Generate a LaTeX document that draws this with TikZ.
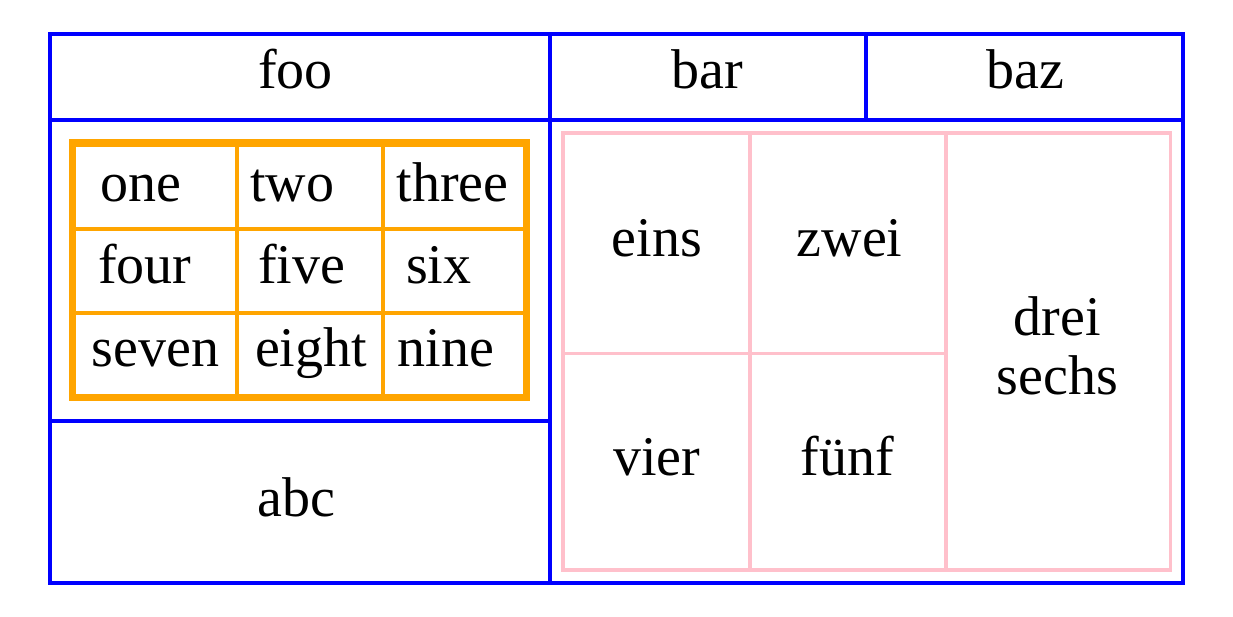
\documentclass[tikz,border=0pt]{standalone}
\usepackage{fontspec}
\setmainfont{Liberation Serif}
\definecolor{tblblue}{HTML}{0000FF}
\definecolor{tblorange}{HTML}{FFA500}
\definecolor{tblpink}{HTML}{FFC0CB}
\tikzset{
  txt/.style={anchor=base west, inner sep=0pt, outer sep=0pt, font=\fontsize{56}{59}\selectfont, text=black},
  ctxt/.style={anchor=base, inner sep=0pt, outer sep=0pt, font=\fontsize{56}{59}\selectfont, text=black, align=center},
  blueline/.style={draw=tblblue, line width=4pt},
  orangeframe/.style={draw=tblorange, line width=7.5pt},
  orangeline/.style={draw=tblorange, line width=4pt},
  pinkline/.style={draw=tblpink, line width=3.5pt}
}
\begin{document}
\begin{tikzpicture}[x=1pt,y=-1pt]
\useasboundingbox (0,0) rectangle (1233,617);
% outer blue table
\draw[blueline] (50.3,34.5) rectangle (1183.3,582.7);
\draw[blueline] (50.3,120.5) -- (1183.3,120.5);
\draw[blueline] (550.3,34.5) -- (550.3,582.7);
\draw[blueline] (866,34.5) -- (866,120.5);
\draw[blueline] (50.3,420.5) -- (550.3,420.5);
% header texts
\node[txt] (foo) at (258.3,89) {foo};
\node[txt] (bar) at (671.7,89) {bar};
\node[txt] (baz) at (986.7,89) {baz};
% orange table
\draw[orangeline] (237,143) -- (237,397.3);
\draw[orangeline] (383,143) -- (383,397.3);
\draw[orangeline] (72.7,229) -- (526.7,229);
\draw[orangeline] (72.7,312.7) -- (526.7,312.7);
\draw[orangeframe] (72.7,143) rectangle (526.7,397.3);
\node[txt] (one) at (100,201.7) {one};
\node[txt] (two) at (250,201.7) {two};
\node[txt] (three) at (396.7,201.7) {three};
\node[txt] (four) at (98.3,283.3) {four};
\node[txt] (five) at (258,283.3) {five};
\node[txt] (six) at (406,283.3) {six};
\node[txt] (seven) at (91.7,366.7) {seven};
\node[txt] (eight) at (255,366.7) {eight};
\node[txt] (nine) at (397.7,366.7) {nine};
% abc
\node[txt] (abc) at (257.3,516) {abc};
% pink table
\draw[pinkline] (563,133) rectangle (1170.7,570);
\draw[pinkline] (750,133) -- (750,570);
\draw[pinkline] (946,133) -- (946,570);
\draw[pinkline] (563,353.7) -- (946,353.7);
\node[txt] (eins) at (611.7,256.7) {eins};
\node[txt] (zwei) at (796.7,256.7) {zwei};
\node[txt] (vier) at (613.3,475.7) {vier};
\node[txt] (fuenf) at (800.7,475.7) {fünf};
\node[ctxt] (drei) at (1057.5,335) {drei};
\node[ctxt] (sechs) at (1057.5,394) {sechs};
\end{tikzpicture}
\end{document}
